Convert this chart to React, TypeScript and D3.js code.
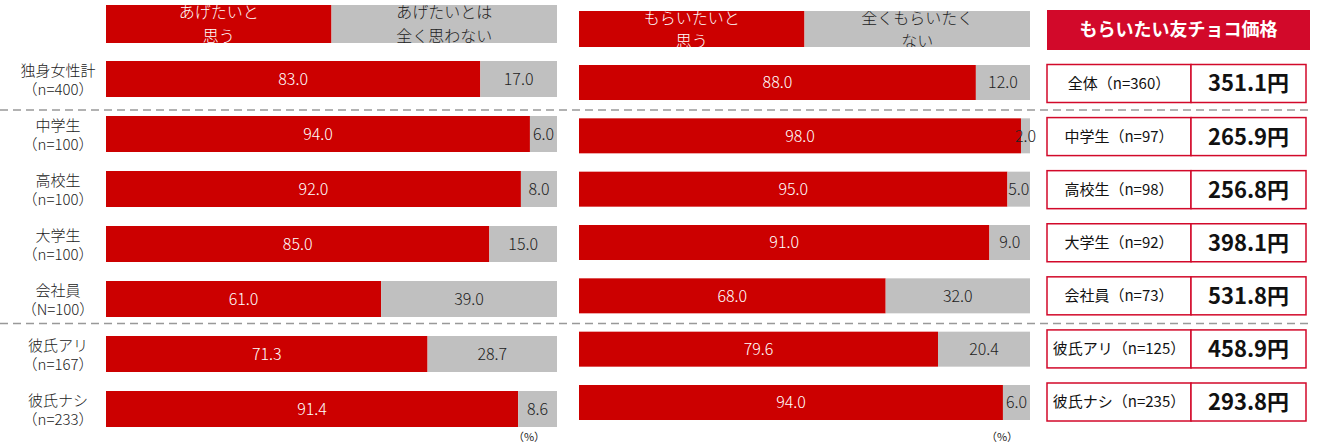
import * as React from 'react';
import * as d3 from 'd3';

const groupNames = ['独身女性計', '中学生', '高校生', '大学生', '会社員', '彼氏アリ', '彼氏ナシ'];
const groupN = ['（n=400）', '（n=100）', '（n=100）', '（n=100）', '（N=100）', '（n=167）', '（n=233）'];

const giveYes = [83.0, 94.0, 92.0, 85.0, 61.0, 71.3, 91.4];
const giveNo = [17.0, 6.0, 8.0, 15.0, 39.0, 28.7, 8.6];
const getYes = [88.0, 98.0, 95.0, 91.0, 68.0, 79.6, 94.0];
const getNo = [12.0, 2.0, 5.0, 9.0, 32.0, 20.4, 6.0];

const giveLegend = [['あげたいと', '思う'], ['あげたいとは', '全く思わない']];
const getLegend = [['もらいたいと', '思う'], ['全くもらいたく', 'ない']];

const priceTitle = 'もらいたい友チョコ価格';
const priceLabels = ['全体（n=360）', '中学生（n=97）', '高校生（n=98）', '大学生（n=92）', '会社員（n=73）', '彼氏アリ（n=125）', '彼氏ナシ（n=235）'];
const prices = [351.1, 265.9, 256.8, 398.1, 531.8, 458.9, 293.8];

const RED = '#cc0000';
const GRAY = '#c0c0c0';
const TABLE_RED = '#d2092a';
const FONT = '"Noto Sans CJK JP", "Noto Sans", sans-serif';

const W = 1317;
const H = 445;

function Stack({ x, y, h, yes, no, legend, clipId, headY, headH, line1, line2 }) {
  const rows = groupNames.map((_, i) => i);
  return (
    <g>
      <defs>
        <clipPath id={clipId + 'r'}>
          <rect x={x(0)} y={headY} width={x(50) - x(0)} height={headH} />
        </clipPath>
        <clipPath id={clipId + 'g'}>
          <rect x={x(50)} y={headY} width={x(100) - x(50)} height={headH} />
        </clipPath>
      </defs>
      {/* legend drawn as a half/half bar */}
      <rect x={x(0)} y={headY} width={x(50) - x(0)} height={headH} fill={RED} />
      <rect x={x(50)} y={headY} width={x(100) - x(50)} height={headH} fill={GRAY} />
      <g clipPath={`url(#${clipId}r)`} fontWeight={300}>
        {legend[0].map((t, k) => (
          <text key={k} x={x(25)} y={k === 0 ? line1 : line2} textAnchor="middle" fill="#fff" fontSize={16}>{t}</text>
        ))}
      </g>
      <g clipPath={`url(#${clipId}g)`} fontWeight={300}>
        {legend[1].map((t, k) => (
          <text key={k} x={x(75)} y={k === 0 ? line1 : line2} textAnchor="middle" fill="#222" fontSize={16}>{t}</text>
        ))}
      </g>
      {rows.map((i) => {
        const cy = y(i);
        return (
          <g key={i} fontWeight={300}>
            <rect x={x(0)} y={cy - h / 2} width={x(yes[i]) - x(0)} height={h} fill={RED} />
            <rect x={x(yes[i])} y={cy - h / 2} width={x(100) - x(yes[i])} height={h} fill={GRAY} />
            <text x={(x(0) + x(yes[i])) / 2} y={cy} dy="0.36em" textAnchor="middle" fill="#fff" fontSize={16}>
              {d3.format('.1f')(yes[i])}
            </text>
            <text x={(x(yes[i]) + x(100)) / 2} y={cy} dy="0.36em" textAnchor="middle" fill="#222" fontSize={16}>
              {d3.format('.1f')(no[i])}
            </text>
          </g>
        );
      })}
      <text x={x(100) - 28} y={441} textAnchor="middle" fontSize={11} fill="#222">（%）</text>
    </g>
  );
}

export default function App() {
  const xGive = d3.scaleLinear().domain([0, 100]).range([106, 557]);
  const xGet = d3.scaleLinear().domain([0, 100]).range([579, 1030]);
  const idx = groupNames.map((_, i) => i);
  const yGive = d3.scalePoint().domain(idx).range([79, 409]);
  const yGet = d3.scalePoint().domain(idx).range([82.5, 402.5]);
  const yTable = d3.scalePoint().domain(idx).range([83.5, 402]);

  const sep1 = (yTable(0) + yTable(1)) / 2;
  const sep2 = (yTable(4) + yTable(5)) / 2 + 1;

  return (
    <div style={{ position: 'absolute', left: 0, top: 0 }}>
      <svg width={W} height={H} style={{ display: 'block', fontFamily: FONT }}>
        <rect width={W} height={H} fill="#fff" />
        {[sep1, sep2].map((sy, k) => (
          <line key={k} x1={0} x2={1310} y1={sy} y2={sy} stroke="#999" strokeWidth={1.5} strokeDasharray="8 5" />
        ))}

        {idx.map((i) => (
          <g key={i} fontSize={15} fill="#222" textAnchor="middle" fontWeight={300}>
            <text x={58} y={yGive(i) - 8} dy="0.36em">{groupNames[i]}</text>
            <text x={58} y={yGive(i) + 11} dy="0.36em">{groupN[i]}</text>
          </g>
        ))}

        <Stack x={xGive} y={yGive} h={36} yes={giveYes} no={giveNo} legend={giveLegend}
          clipId="give" headY={5} headH={38} line1={18} line2={42} />
        <Stack x={xGet} y={yGet} h={35} yes={getYes} no={getNo} legend={getLegend}
          clipId="get" headY={11} headH={36} line1={24} line2={47} />

        <rect x={1047} y={10} width={263} height={40} fill={TABLE_RED} />
        <text x={1178.5} y={30} dy="0.36em" textAnchor="middle" fill="#fff" fontSize={18} fontWeight="bold">{priceTitle}</text>
        {idx.map((i) => {
          const cy = yTable(i);
          return (
            <g key={i}>
              <rect x={1047} y={cy - 19} width={144} height={38} fill="#fff" stroke={TABLE_RED} strokeWidth={1.5} />
              <rect x={1191} y={cy - 19} width={115} height={38} fill="#fff" stroke={TABLE_RED} strokeWidth={1.5} />
              <text x={1119} y={cy} dy="0.36em" textAnchor="middle" fontSize={15} fill="#111">{priceLabels[i]}</text>
              <text x={1248.5} y={cy} dy="0.36em" textAnchor="middle" fontSize={22} fontWeight="bold" fill="#111">
                {d3.format('.1f')(prices[i]) + '円'}
              </text>
            </g>
          );
        })}
      </svg>
    </div>
  );
}
